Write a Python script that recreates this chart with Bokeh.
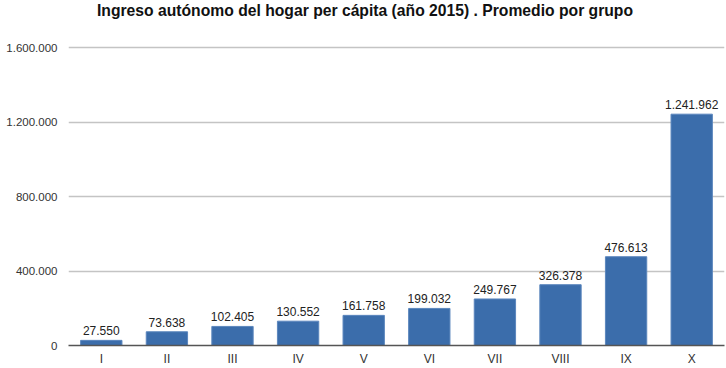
from bokeh.plotting import figure
from bokeh.models import ColumnDataSource, FixedTicker, LabelSet, Label, CustomJSTickFormatter, Range1d
from bokeh.core.properties import value
from bokeh.embed import file_html
from bokeh.resources import INLINE

categories = ["I", "II", "III", "IV", "V", "VI", "VII", "VIII", "IX", "X"]
values = [27550, 73638, 102405, 130552, 161758, 199032, 249767, 326378, 476613, 1241962]
labels = ["27.550", "73.638", "102.405", "130.552", "161.758", "199.032", "249.767", "326.378", "476.613", "1.241.962"]
y_ticks = [0, 400000, 800000, 1200000, 1600000]
title_text = "Ingreso autónomo del hogar per cápita (año 2015) . Promedio por grupo"

src = ColumnDataSource(dict(cat=categories, val=values, lab=labels))

# frame spans the full height above the axis; 1.600.000 sits 47px below the top
frame_h = 345
y_top = y_ticks[-1] * frame_h / (frame_h - 47)

p = figure(x_range=categories, y_range=Range1d(0, y_top), width=726, height=368,
           output_backend="svg", toolbar_location=None,
           min_border_left=68, min_border_right=2, min_border_top=0, min_border_bottom=23)

p.add_layout(Label(x=4.52, y=y_ticks[-1], y_offset=37, text=title_text, text_align="center",
                   text_baseline="middle", text_font="Liberation Sans", text_font_size="15.7px",
                   text_font_style="bold", text_color="#111111"))

p.vbar(x="cat", top="val", width=0.63, source=src, fill_color="#3b6dab", line_color="#5b86bd", line_width=1)

p.add_layout(LabelSet(x="cat", y="val", text="lab", source=src, text_align="center",
                      text_baseline="bottom", y_offset=5, text_font=value("Liberation Sans"),
                      text_font_size=value("12px"), text_color="#222222"))

p.outline_line_color = None
p.background_fill_color = "white"
p.xgrid.grid_line_color = None
p.ygrid.grid_line_color = "#c4c4c4"
p.ygrid.grid_line_width = 1.5
p.yaxis.ticker = FixedTicker(ticks=y_ticks)
p.yaxis.formatter = CustomJSTickFormatter(code="return tick.toString().replace(/\\B(?=(\\d{3})+(?!\\d))/g, '.');")
p.yaxis.axis_line_color = None
p.yaxis.major_tick_line_color = None
p.yaxis.major_tick_out = 0
p.yaxis.minor_tick_line_color = None
p.yaxis.major_label_text_font = "Liberation Sans"
p.yaxis.major_label_text_font_size = "11.5px"
p.yaxis.major_label_text_color = "#333333"
p.yaxis.major_label_standoff = 11

p.xaxis.axis_line_color = "#555555"
p.xaxis.axis_line_width = 1.5
p.xaxis.major_tick_line_color = None
p.xaxis.major_tick_out = 0
p.xaxis.minor_tick_line_color = None
p.xaxis.major_label_text_font = "Liberation Sans"
p.xaxis.major_label_text_font_size = "12px"
p.xaxis.major_label_text_color = "#333333"
p.xaxis.major_label_standoff = 6
p.x_range.range_padding = 0.0

open("out.html", "w").write(file_html(p, INLINE))
